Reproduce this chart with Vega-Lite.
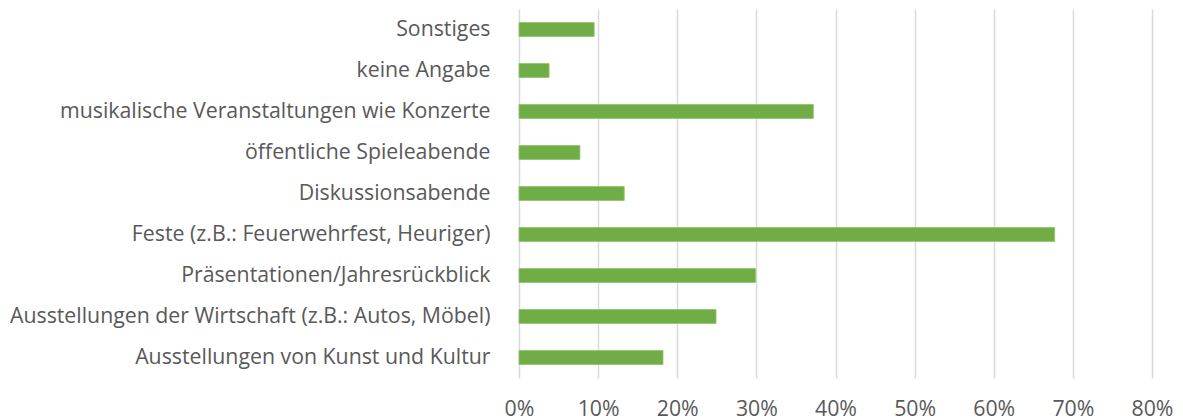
{
  "$schema": "https://vega.github.io/schema/vega-lite/v6.json",
  "width": 633,
  "height": 369,
  "autosize": {"type": "none"},
  "padding": {"left": 519, "top": 9, "right": 31, "bottom": 42},
  "background": "white",
  "config": {"view": {"stroke": null}},
  "data": {
    "values": [
      {"cat": "Sonstiges", "v": 0.095},
      {"cat": "keine Angabe", "v": 0.038},
      {"cat": "musikalische Veranstaltungen wie Konzerte", "v": 0.372},
      {"cat": "öffentliche Spieleabende", "v": 0.077},
      {"cat": "Diskussionsabende", "v": 0.133},
      {"cat": "Feste (z.B.: Feuerwehrfest, Heuriger)", "v": 0.677},
      {"cat": "Präsentationen/Jahresrückblick", "v": 0.299},
      {"cat": "Ausstellungen der Wirtschaft (z.B.: Autos, Möbel)", "v": 0.249},
      {"cat": "Ausstellungen von Kunst und Kultur", "v": 0.182}
    ]
  },
  "mark": {"type": "bar", "color": "#70ad47", "stroke": "#8fc46a", "strokeWidth": 0.8},
  "encoding": {
    "y": {
      "field": "cat", "type": "nominal", "sort": null,
      "scale": {"paddingInner": 0.66, "paddingOuter": 0.33},
      "axis": {
        "title": null, "domain": false, "ticks": false, "grid": false,
        "labelPadding": 29, "labelFont": "Open Sans", "labelFontSize": 21.3,
        "labelColor": "#595959", "labelLimit": 600
      }
    },
    "x": {
      "field": "v", "type": "quantitative",
      "scale": {"domain": [0, 0.8], "nice": false},
      "axis": {
        "title": null, "format": ".0%", "values": [0, 0.1, 0.2, 0.3, 0.4, 0.5, 0.6, 0.7, 0.8],
        "domain": false, "ticks": false, "grid": true, "gridColor": "#d9d9d9", "gridWidth": 1.5,
        "labelPadding": 20, "labelFont": "Open Sans", "labelFontSize": 21.3,
        "labelColor": "#595959", "labelFlush": false
      }
    }
  }
}
